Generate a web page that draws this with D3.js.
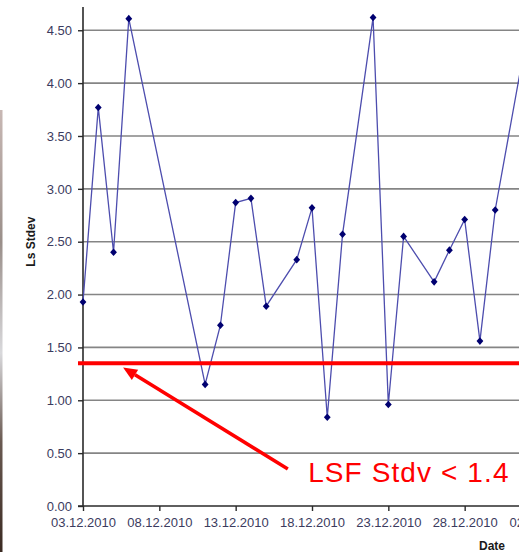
<!DOCTYPE html>
<html>
<head>
<meta charset="utf-8">
<script src="https://cdn.jsdelivr.net/npm/d3@7/dist/d3.min.js"></script>
<style>
  html, body { margin: 0; padding: 0; background: #fff; }
  svg { display: block; font-family: "Liberation Sans", Arial, sans-serif; }
</style>
</head>
<body>
<svg id="chart" width="519" height="552"></svg>
<script>
// ---- data ----
const dates = ["2010-12-03","2010-12-04","2010-12-05","2010-12-06","2010-12-11","2010-12-12",
               "2010-12-13","2010-12-14","2010-12-15","2010-12-17","2010-12-18","2010-12-19",
               "2010-12-20","2010-12-22","2010-12-23","2010-12-24","2010-12-26","2010-12-27",
               "2010-12-28","2010-12-29","2010-12-30","2011-01-01"];
const lsStdev = [1.93, 3.77, 2.40, 4.61, 1.15, 1.71,
                 2.87, 2.91, 1.89, 2.33, 2.82, 0.84,
                 2.57, 4.62, 0.96, 2.55, 2.12, 2.42,
                 2.71, 1.56, 2.80, 4.40];
const yTicks = [0, 0.5, 1, 1.5, 2, 2.5, 3, 3.5, 4, 4.5];
const xTickDates = ["2010-12-03","2010-12-08","2010-12-13","2010-12-18","2010-12-23","2010-12-28","2011-01-02"];
const threshold = 1.35;
const annotationText = "LSF Stdv < 1.4";
const arrowTail = ["2010-12-16 10:00", 0.35];
const arrowTip = ["2010-12-05 15:00", 1.31];
const labelAnchor = ["2010-12-17 18:00", 0.23];

// ---- layout ----
const W = 519, H = 552;
const parse = d3.timeParse("%Y-%m-%d");
const parseT = d3.timeParse("%Y-%m-%d %H:%M");
const svg = d3.select("#chart");

const x = d3.scaleTime()
  .domain([parse("2010-12-03"), parse("2011-01-02")])
  .range([83, 541]);
const y = d3.scaleLinear().domain([0, 4.72]).range([506, 7]);

const pts = dates.map((d, i) => ({ d: parse(d), v: lsStdev[i] }));

// left photo strip remnant
const defs = svg.append("defs");
const g = defs.append("linearGradient").attr("id", "strip").attr("x1", 0).attr("y1", 0).attr("x2", 0).attr("y2", 1);
[["0%","#c8b8b4"],["30%","#9a8f8a"],["55%","#d9d9dc"],["75%","#6a5a52"],["100%","#3a2a22"]]
  .forEach(([o,c]) => g.append("stop").attr("offset", o).attr("stop-color", c));
svg.append("rect").attr("x", 0).attr("y", 110).attr("width", 2.5).attr("height", H - 110).attr("fill", "url(#strip)");

// gridlines
svg.append("g").selectAll("line").data(yTicks.filter(t => t > 0)).join("line")
  .attr("x1", 83).attr("x2", W)
  .attr("y1", d => y(d)).attr("y2", d => y(d))
  .attr("stroke", "#858585").attr("stroke-width", 1.6);

// y axis
const yAxis = svg.append("g").attr("transform", "translate(83,0)")
  .call(d3.axisLeft(y).tickValues(yTicks).tickFormat(d3.format(".2f")).tickSize(5).tickPadding(6));
yAxis.select(".domain").attr("stroke", "#2a2a2a").attr("stroke-width", 1.6).attr("d", `M0,${y(4.72)}V${y(0)}`);
yAxis.selectAll(".tick line").attr("stroke", "#2a2a2a").attr("stroke-width", 1.4);
yAxis.selectAll(".tick text").attr("font-size", 13).attr("fill", "#3b3b5e")
  .attr("font-family", "Liberation Sans, Arial, sans-serif");

// x axis
const xAxis = svg.append("g").attr("transform", "translate(0,506)")
  .call(d3.axisBottom(x).tickValues(xTickDates.map(parse)).tickFormat(d3.timeFormat("%d.%m.%Y")).tickSize(5).tickPadding(7));
xAxis.select(".domain").attr("stroke", "#2a2a2a").attr("stroke-width", 1.6).attr("d", `M78,0H${W}`);
xAxis.selectAll(".tick line").attr("stroke", "#2a2a2a").attr("stroke-width", 1.4);
xAxis.selectAll(".tick text").attr("font-size", 13).attr("fill", "#3b3b5e")
  .attr("font-family", "Liberation Sans, Arial, sans-serif");

// axis titles
svg.append("text").attr("transform", `translate(35,${y(2.5)}) rotate(-90)`)
  .attr("text-anchor", "middle").attr("font-size", 12).attr("font-weight", "bold").attr("fill", "#1a1a1a")
  .text("Ls Stdev");
svg.append("text").attr("x", 492).attr("y", 550)
  .attr("text-anchor", "middle").attr("font-size", 12).attr("font-weight", "bold").attr("fill", "#1a1a1a")
  .text("Date");

// series line
svg.append("path").datum(pts)
  .attr("fill", "none").attr("stroke", "#4d4dae").attr("stroke-width", 1.3)
  .attr("d", d3.line().x(d => x(d.d)).y(d => y(d.v)));

// markers (diamonds)
svg.append("g").selectAll("path").data(pts).join("path")
  .attr("transform", d => `translate(${x(d.d)},${y(d.v)})`)
  .attr("d", "M0,-3.8L3.4,0L0,3.8L-3.4,0Z")
  .attr("fill", "#000070");

// threshold line
svg.append("line").attr("x1", 78).attr("x2", W)
  .attr("y1", y(threshold)).attr("y2", y(threshold))
  .attr("stroke", "#ff0000").attr("stroke-width", 4);

// arrow annotation
const tx = x(parseT(arrowTail[0])), ty = y(arrowTail[1]);
const hx = x(parseT(arrowTip[0])), hy = y(arrowTip[1]);
const ang = Math.atan2(hy - ty, hx - tx);
const headLen = 14, headW = 6;
const bx = hx - headLen * Math.cos(ang), by = hy - headLen * Math.sin(ang);
svg.append("line").attr("x1", tx).attr("y1", ty).attr("x2", bx).attr("y2", by)
  .attr("stroke", "#ff0000").attr("stroke-width", 3.5);
svg.append("path")
  .attr("d", `M${hx},${hy}L${bx + headW * Math.sin(ang)},${by - headW * Math.cos(ang)}L${bx - headW * Math.sin(ang)},${by + headW * Math.cos(ang)}Z`)
  .attr("fill", "#ff0000");

svg.append("text").attr("x", x(parseT(labelAnchor[0]))).attr("y", y(labelAnchor[1]))
  .attr("font-size", 28).attr("letter-spacing", 1.1).attr("fill", "#ff0000")
  .text(annotationText);
</script>
</body>
</html>
